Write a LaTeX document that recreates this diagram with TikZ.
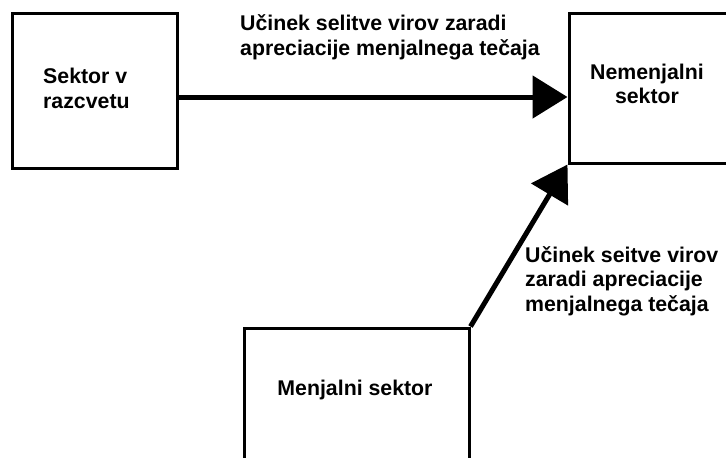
\documentclass[tikz,border=0pt]{standalone}
\usepackage{fontspec}
\setmainfont{Liberation Sans}
\usetikzlibrary{arrows.meta}
\begin{document}
\begin{tikzpicture}[x=1pt,y=-1pt,
  box/.style={draw=black,line width=3pt,inner sep=0pt},
  txt/.style={font=\fontsize{21.3}{24.5}\selectfont\bfseries,inner sep=0pt},
  arr/.style={line width=5pt,-{Triangle[length=35pt,width=42pt]}}]
\clip (0,0) rectangle (726,458);
\fill[white] (0,0) rectangle (726,458);
% boxes
\node[box,minimum width=165pt,minimum height=155pt] (A) at (94.5,90.5) {};
\node[box,minimum width=166pt,minimum height=150pt] (B) at (652,88) {};
\node[box,minimum width=225pt,minimum height=134pt] (C) at (356.5,395) {};
% box texts
\node[txt,align=left,anchor=west] (At) at (43,88.5) {Sektor v\\razcvetu};
\node[txt,align=center] (Bt) at (647,84) {Nemenjalni\\sektor};
\node[txt] (Ct) at (355,390) {Menjalni sektor};
% connectors
\coordinate (a0) at ([yshift=-6.5pt]A.east);
\draw[arr] (a0) -- (a0 -| B.west);
\draw[arr] (C.north east) -- (B.south west);
% connector labels
\node[txt,align=left,anchor=west] (L1) at (240,37.5) {Učinek selitve virov zaradi\\apreciacije menjalnega tečaja};
\node[txt,align=left,anchor=west] (L2) at (525,281) {Učinek seitve virov\\zaradi apreciacije\\menjalnega tečaja};
\end{tikzpicture}
\end{document}
